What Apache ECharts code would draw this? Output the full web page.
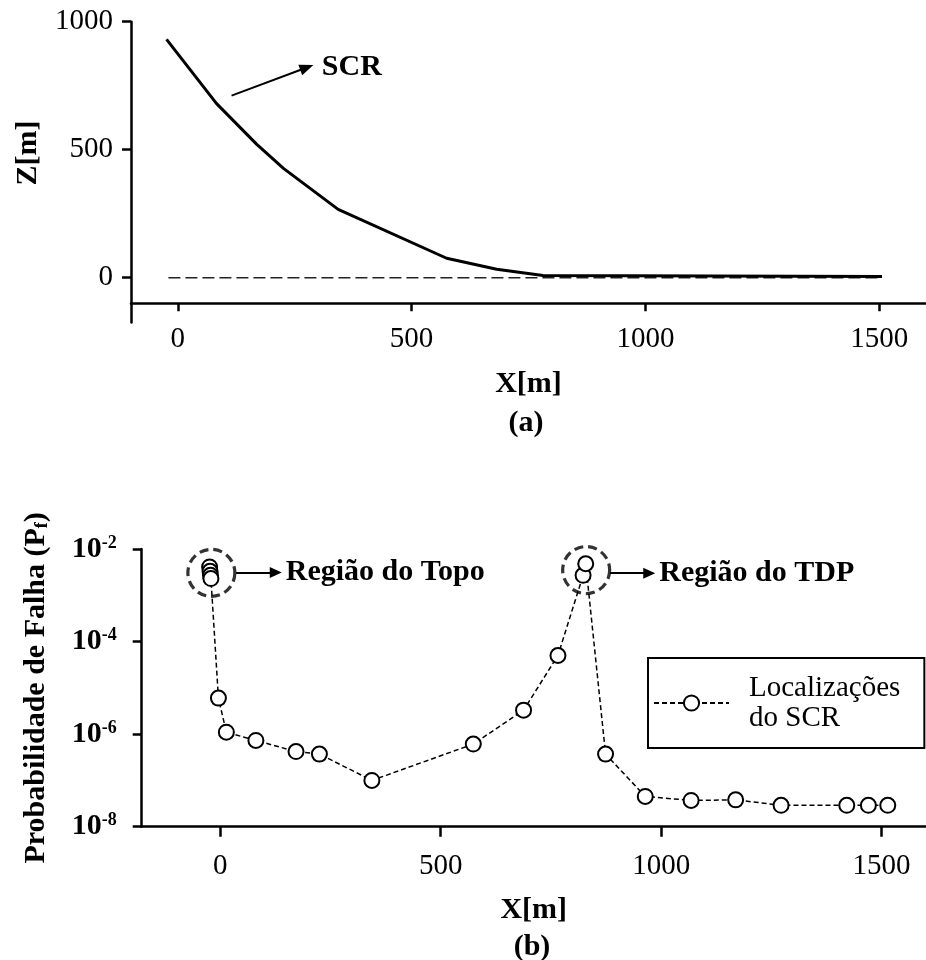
<!DOCTYPE html>
<html lang="pt">
<head>
  <meta charset="UTF-8">
  <title>SCR – perfil e probabilidade de falha</title>
  <style>
    * { margin: 0; padding: 0; }
    html, body { width: 926px; height: 960px; background: #fff; }
    #chart { width: 926px; height: 960px; }
  </style>
</head>
<body>
  <div id="chart"></div>
  <script src="https://cdn.jsdelivr.net/npm/echarts@6/dist/echarts.min.js"></script>
  <script>
    // --- dados ---
    // (a) perfil do SCR
    const scrX = [-24, 83, 169, 226, 343, 575, 682, 781, 1506];
    const scrZ = [931, 680, 521, 427, 267, 76, 33, 9, 5];
    const seabedX = [-20, 1506];
    const seabedZ = [0, 0];
    const xTicks = [0, 500, 1000, 1500];
    const zTicks = [0, 500, 1000];
    const scrArrowFrom = [115, 711];
    const scrArrowTo = [276, 821];

    // (b) probabilidade de falha ao longo do SCR
    const locX = [-24, -23, -22, -21, -4, 14, 81, 172, 225, 344, 574, 688, 766, 823, 829, 874, 964, 1068, 1169, 1272, 1421, 1470, 1514];
    const locPf = [4.1e-3, 3.3e-3, 2.7e-3, 2.3e-3, 6.0e-6, 1.1e-6, 7.3e-7, 4.2e-7, 3.7e-7, 1.0e-7, 6.1e-7, 3.3e-6, 5.0e-5,
                   2.7e-3, 4.8e-3, 3.7e-7, 4.5e-8, 3.7e-8, 3.8e-8, 2.9e-8, 2.9e-8, 2.9e-8, 2.9e-8];
    const regionNames = ['Região do Topo', 'Região do TDP'];
    const regionX = [-20, 830];
    const regionPf = [3.05e-3, 3.5e-3];
    const arrowFromX = [36, 884];
    const arrowToX = [126, 973];
    const arrowPf = [3.1e-3, 3.0e-3];

    const FONT = 'Liberation Serif';
    const zip = (a, b) => a.map((v, i) => [v, b[i]]);

    const chart = echarts.init(document.getElementById('chart'), null, { renderer: 'canvas' });

    const axisLine = { show: true, onZero: false, lineStyle: { color: '#000', width: 2.5 } };
    const tickStyle = { color: '#000', width: 2.5 };
    const regLabel = { color: '#000', fontFamily: FONT, fontSize: 29, formatter: v => String(v) };

    const option = {
      animation: false,
      backgroundColor: '#fff',
      grid: [
        { left: 131, top: 21.7, width: 795, height: 300.8 },
        { left: 141.7, top: 549, width: 784, height: 277.7 }
      ],
      xAxis: [
        {
          gridIndex: 0, type: 'value', min: -100, max: 1600, offset: -19.2,
          axisLine: axisLine,
          axisTick: { show: true, length: 8, lineStyle: tickStyle, customValues: xTicks },
          axisLabel: Object.assign({ margin: 22, customValues: xTicks }, regLabel),
          splitLine: { show: false },
          name: 'X[m]', nameLocation: 'middle', nameGap: 66,
          nameTextStyle: { color: '#000', fontFamily: FONT, fontSize: 30, fontWeight: 'bold' }
        },
        {
          gridIndex: 1, type: 'value', min: -178, max: 1600,
          axisLine: axisLine,
          axisTick: { show: true, length: 10, lineStyle: tickStyle, customValues: xTicks },
          axisLabel: Object.assign({ margin: 25, customValues: xTicks }, regLabel),
          splitLine: { show: false },
          name: 'X[m]', nameLocation: 'middle', nameGap: 69,
          nameTextStyle: { color: '#000', fontFamily: FONT, fontSize: 30, fontWeight: 'bold' }
        }
      ],
      yAxis: [
        {
          gridIndex: 0, type: 'value', min: -175, max: 1000,
          axisLine: axisLine,
          axisTick: { show: true, length: 9, lineStyle: tickStyle, customValues: zTicks },
          axisLabel: Object.assign({ margin: 18, customValues: zTicks }, regLabel),
          splitLine: { show: false },
          name: 'Z[m]', nameLocation: 'middle', nameGap: 88,
          nameTextStyle: { color: '#000', fontFamily: FONT, fontSize: 30, fontWeight: 'bold', padding: [0, 0, 0, 38] }
        },
        {
          gridIndex: 1, type: 'log', logBase: 10, min: 1e-8, max: 1e-2, interval: 2,
          axisLine: axisLine,
          axisTick: { show: true, length: 9, lineStyle: tickStyle },
          axisLabel: {
            margin: 25,
            formatter: v => '{b|10}{s|' + Math.round(Math.log10(v)) + '}',
            rich: {
              b: { color: '#000', fontFamily: FONT, fontSize: 30, fontWeight: 'bold' },
              s: { color: '#000', fontFamily: FONT, fontSize: 18, fontWeight: 'bold', verticalAlign: 'top' }
            }
          },
          splitLine: { show: false },
          name: '{t|Probabilidade de Falha (P}{f|f}{t|)}', nameLocation: 'middle', nameGap: 90,
          nameTextStyle: {
            rich: {
              t: { color: '#000', fontFamily: FONT, fontSize: 30, fontWeight: 'bold' },
              f: { color: '#000', fontFamily: FONT, fontSize: 18, fontWeight: 'bold', verticalAlign: 'bottom' }
            }
          }
        }
      ],
      legend: {
        data: ['Localizações\ndo SCR'],
        left: 648, top: 658,
        padding: [15, 24, 15, 5],
        borderColor: '#000', borderWidth: 2,
        itemWidth: 75, itemHeight: 19,
        textStyle: { color: '#000', fontFamily: FONT, fontSize: 29, lineHeight: 30, padding: [0, 0, 0, 15] }
      },
      series: [
        {
          name: 'SCR', type: 'line', xAxisIndex: 0, yAxisIndex: 0,
          data: zip(scrX, scrZ), showSymbol: false, symbol: 'none', z: 3,
          lineStyle: { color: '#000', width: 3 },
          markLine: {
            silent: true, animation: false,
            symbol: ['none', 'triangle'], symbolSize: [11, 14],
            lineStyle: { color: '#000', width: 2, type: 'solid' },
            label: { show: true, position: 'end', distance: [16, 0], formatter: 'SCR',
                     color: '#000', fontFamily: FONT, fontSize: 30, fontWeight: 'bold' },
            data: [[{ coord: scrArrowFrom }, { coord: scrArrowTo }]]
          }
        },
        {
          name: 'Leito', type: 'line', xAxisIndex: 0, yAxisIndex: 0,
          data: zip(seabedX, seabedZ), showSymbol: false, symbol: 'none', z: 1,
          lineStyle: { color: '#222', width: 1.5, type: [12, 5] }
        },
        {
          name: 'Localizações\ndo SCR', type: 'line', xAxisIndex: 1, yAxisIndex: 1,
          data: zip(locX, locPf),
          symbol: 'emptyCircle', symbolSize: 15,
          itemStyle: { color: '#000', borderWidth: 1.8 },
          lineStyle: { color: '#000', width: 1.5, type: [5, 3] }
        },
        {
          name: 'Regiões', type: 'scatter', xAxisIndex: 1, yAxisIndex: 1,
          data: zip(regionX, regionPf),
          symbol: 'circle', symbolSize: 47, z: 3,
          itemStyle: { color: 'rgba(0,0,0,0)', borderColor: '#000', borderWidth: 3.2, borderType: [9, 5] },
          markLine: {
            silent: true, animation: false,
            symbol: ['none', 'triangle'], symbolSize: [11, 12],
            lineStyle: { color: '#000', width: 2, type: 'solid' },
            label: { show: true, position: 'end', distance: 10,
                     color: '#000', fontFamily: FONT, fontSize: 30, fontWeight: 'bold',
                     formatter: p => p.name },
            data: regionNames.map((n, i) => [
              { name: n, coord: [arrowFromX[i], arrowPf[i]] },
              { coord: [arrowToX[i], arrowPf[i]] }
            ])
          }
        }
      ],
      graphic: [
        { type: 'text', x: 526, y: 423, silent: true,
          style: { text: '(a)', textAlign: 'center', textVerticalAlign: 'middle', fill: '#000',
                   font: 'bold 30px "Liberation Serif"' } },
        { type: 'text', x: 532, y: 947, silent: true,
          style: { text: '(b)', textAlign: 'center', textVerticalAlign: 'middle', fill: '#000',
                   font: 'bold 30px "Liberation Serif"' } }
      ]
    };

    chart.setOption(option);
  </script>
</body>
</html>
